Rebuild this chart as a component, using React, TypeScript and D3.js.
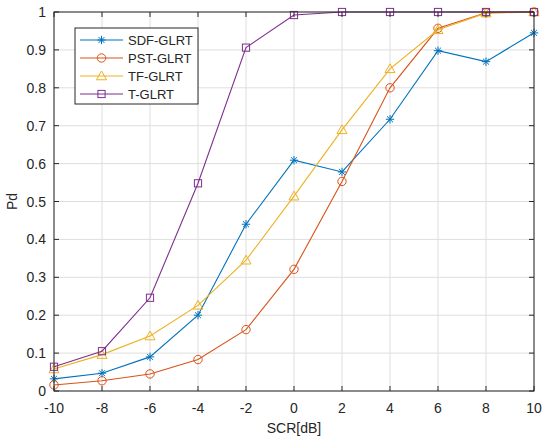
import React from 'react';
import * as d3 from 'd3';

const scr = [-10, -8, -6, -4, -2, 0, 2, 4, 6, 8, 10];
const sdfGlrt = [0.032, 0.047, 0.09, 0.2, 0.44, 0.609, 0.578, 0.717, 0.898, 0.869, 0.945];
const pstGlrt = [0.016, 0.027, 0.045, 0.083, 0.162, 0.321, 0.553, 0.8, 0.957, 0.998, 1.0];
const tfGlrt = [0.058, 0.096, 0.145, 0.226, 0.345, 0.514, 0.689, 0.85, 0.953, 0.997, 1.0];
const tGlrt = [0.064, 0.105, 0.246, 0.548, 0.906, 0.992, 1.0, 1.0, 1.0, 1.0, 1.0];
const xTicks = [-10, -8, -6, -4, -2, 0, 2, 4, 6, 8, 10];
const yTicks = [0, 0.1, 0.2, 0.3, 0.4, 0.5, 0.6, 0.7, 0.8, 0.9, 1];

type Marker = 'star' | 'circle' | 'triangle' | 'square';

const series: { name: string; values: number[]; color: string; marker: Marker }[] = [
  { name: 'SDF-GLRT', values: sdfGlrt, color: '#0072BD', marker: 'star' },
  { name: 'PST-GLRT', values: pstGlrt, color: '#D95319', marker: 'circle' },
  { name: 'TF-GLRT', values: tfGlrt, color: '#EDB120', marker: 'triangle' },
  { name: 'T-GLRT', values: tGlrt, color: '#7E2F8E', marker: 'square' },
];

const FONT = '"Liberation Sans", Arial, Helvetica, sans-serif';

const MarkerShape: React.FC<{ type: Marker; x: number; y: number; color: string }> = ({ type, x, y, color }) => {
  const common = { fill: 'none', stroke: color, strokeWidth: 1 };
  if (type === 'circle') return <circle cx={x} cy={y} r={4.2} {...common} />;
  if (type === 'square') return <rect x={x - 3.6} y={y - 3.6} width={7.2} height={7.2} {...common} />;
  if (type === 'triangle') {
    const s = 5;
    return <path d={`M${x},${y - s}L${x + s},${y + s * 0.75}L${x - s},${y + s * 0.75}Z`} {...common} />;
  }
  const r = 4.2;
  const d = r * 0.707;
  return (
    <path
      d={`M${x - r},${y}L${x + r},${y}M${x},${y - r}L${x},${y + r}M${x - d},${y - d}L${x + d},${y + d}M${x - d},${y + d}L${x + d},${y - d}`}
      {...common}
    />
  );
};

export default function App() {
  const width = 550;
  const height = 442;
  const left = 54;
  const right = 534;
  const top = 12;
  const bottom = 391;

  const x = d3.scaleLinear().domain([-10, 10]).range([left, right]);
  const y = d3.scaleLinear().domain([0, 1]).range([bottom, top]);

  const line = d3
    .line<number>()
    .x((_, i) => x(scr[i]))
    .y((d) => y(d));

  const axisColor = '#262626';
  const gridColor = '#dedede';
  const tickLen = 5;

  // legend box
  const lg = { x: 75, y: 28, w: 123, h: 76 };

  return (
    <svg
      width={width}
      height={height}
      style={{ position: 'absolute', left: 0, top: 0, background: '#fff' }}
      fontFamily={FONT}
    >
      <rect x={0} y={0} width={width} height={height} fill="#fff" />
      {/* grid */}
      {xTicks.map((t) => (
        <line key={`gx${t}`} x1={x(t)} x2={x(t)} y1={top} y2={bottom} stroke={gridColor} strokeWidth={1} />
      ))}
      {yTicks.map((t) => (
        <line key={`gy${t}`} x1={left} x2={right} y1={y(t)} y2={y(t)} stroke={gridColor} strokeWidth={1} />
      ))}

      {/* series */}
      {series.map((s) => (
        <g key={s.name}>
          <path d={line(s.values) || ''} fill="none" stroke={s.color} strokeWidth={1.1} />
          {s.values.map((v, i) => (
            <MarkerShape key={i} type={s.marker} x={x(scr[i])} y={y(v)} color={s.color} />
          ))}
        </g>
      ))}

      {/* axes box */}
      <rect x={left} y={top} width={right - left} height={bottom - top} fill="none" stroke={axisColor} strokeWidth={1} />
      {xTicks.map((t) => (
        <g key={`tx${t}`}>
          <line x1={x(t)} x2={x(t)} y1={bottom} y2={bottom - tickLen} stroke={axisColor} />
          <line x1={x(t)} x2={x(t)} y1={top} y2={top + tickLen} stroke={axisColor} />
          <text x={x(t)} y={bottom + 22} textAnchor="middle" fontSize={14} fill={axisColor}>
            {t}
          </text>
        </g>
      ))}
      {yTicks.map((t) => (
        <g key={`ty${t}`}>
          <line x1={left} x2={left + tickLen} y1={y(t)} y2={y(t)} stroke={axisColor} />
          <line x1={right} x2={right - tickLen} y1={y(t)} y2={y(t)} stroke={axisColor} />
          <text x={left - 8} y={y(t) + 5} textAnchor="end" fontSize={14} fill={axisColor}>
            {t}
          </text>
        </g>
      ))}

      {/* axis labels */}
      <text x={(left + right) / 2} y={433} textAnchor="middle" fontSize={14} fill={axisColor}>
        SCR[dB]
      </text>
      <text
        transform={`translate(17,${(top + bottom) / 2}) rotate(-90)`}
        textAnchor="middle"
        fontSize={14}
        fill={axisColor}
      >
        Pd
      </text>

      {/* legend */}
      <rect x={lg.x} y={lg.y} width={lg.w} height={lg.h} fill="#fff" stroke={axisColor} strokeWidth={1} />
      {series.map((s, i) => {
        const ly = 40 + i * 18;
        return (
          <g key={`lg${s.name}`}>
            <line x1={80} x2={123} y1={ly} y2={ly} stroke={s.color} strokeWidth={1.1} />
            <MarkerShape type={s.marker} x={101.5} y={ly} color={s.color} />
            <text x={128} y={ly + 4.5} fontSize={13} fill={axisColor}>
              {s.name}
            </text>
          </g>
        );
      })}
    </svg>
  );
}
